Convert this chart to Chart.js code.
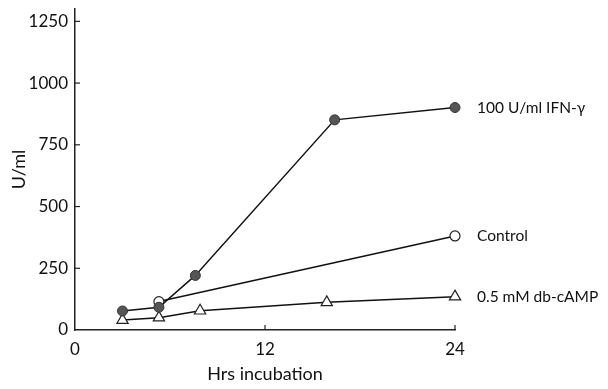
<!DOCTYPE html>
<html>
<head>
<meta charset="utf-8">
<script src="https://cdn.jsdelivr.net/npm/chart.js@4.4.1/dist/chart.umd.min.js"></script>
<style>
html,body{margin:0;padding:0;background:#fff;}
#wrap{width:608px;height:389px;}
</style>
</head>
<body>
<div id="wrap"><canvas id="c" width="608" height="389"></canvas></div>
<script>
// Data
const ifnHours = [3, 5.3, 7.6, 16.4, 24];
const ifnValues = [77, 92, 221, 851, 901];
const controlHours = [5.3, 24];
const controlValues = [115, 381];
const campHours = [3, 5.3, 7.9, 15.9, 24];
const campValues = [40, 50, 78, 112, 135];
const seriesLabels = ['100 U/ml IFN-\u03b3', 'Control', '0.5 mM db-cAMP'];
const xTicks = [0, 12, 24];
const yTicks = [0, 250, 500, 750, 1000, 1250];
const xTitle = 'Hrs incubation';
const yTitle = 'U/ml';

const FONT = 'Lato, "Open Sans", sans-serif';

function pts(xs, ys){ return xs.map((x,i)=>({x:x, y:ys[i]})); }

const endLabels = {
  id:'endLabels',
  afterDatasetsDraw(chart){
    const ctx = chart.ctx;
    ctx.save();
    ctx.fillStyle = '#111';
    ctx.font = '15.5px ' + FONT;
    ctx.textBaseline = 'middle';
    ctx.textAlign = 'left';
    chart.data.datasets.forEach((ds, i)=>{
      const meta = chart.getDatasetMeta(i);
      const last = meta.data[meta.data.length-1];
      ctx.fillText(ds.label, last.x + 22, last.y);
    });
    ctx.restore();
  }
};

const innerTicks = {
  id:'innerTicks',
  afterDraw(chart){
    const ctx = chart.ctx;
    const xs = chart.scales.x, ys = chart.scales.y;
    ctx.save();
    ctx.strokeStyle = '#222';
    ctx.lineWidth = 1.2;
    ys.ticks.forEach(t=>{
      if (t.value === 0) return;
      const py = ys.getPixelForValue(t.value);
      ctx.beginPath(); ctx.moveTo(xs.left, py); ctx.lineTo(xs.left + 5, py); ctx.stroke();
    });
    xs.ticks.forEach(t=>{
      if (t.value === 0) return;
      const px = xs.getPixelForValue(t.value);
      ctx.beginPath(); ctx.moveTo(px, ys.bottom); ctx.lineTo(px, ys.bottom - 5); ctx.stroke();
    });
    ctx.restore();
  }
};

new Chart(document.getElementById('c'), {
  type:'scatter',
  data:{
    datasets:[
      {label:seriesLabels[0], data:pts(ifnHours, ifnValues), showLine:true, clip:false,
       borderColor:'#111', borderWidth:1.5, pointStyle:'circle', pointRadius:5,
       pointBackgroundColor:'#555', pointBorderColor:'#333', pointBorderWidth:1},
      {label:seriesLabels[1], data:pts(controlHours, controlValues), showLine:true, clip:false,
       borderColor:'#111', borderWidth:1.5, pointStyle:'circle', pointRadius:5,
       pointBackgroundColor:'#fff', pointBorderColor:'#222', pointBorderWidth:1.2},
      {label:seriesLabels[2], data:pts(campHours, campValues), showLine:true, clip:false,
       borderColor:'#111', borderWidth:1.5, pointStyle:'triangle', pointRadius:6.5,
       pointBackgroundColor:'#fff', pointBorderColor:'#222', pointBorderWidth:1.2}
    ]
  },
  options:{
    responsive:false,
    animation:false,
    devicePixelRatio:1,
    layout:{padding:{left:4, right:153, top:9, bottom:0}},
    plugins:{legend:{display:false}, tooltip:{enabled:false}},
    scales:{
      x:{
        type:'linear', min:0, max:24,
        afterBuildTicks(s){ s.ticks = xTicks.map(v=>({value:v})); },
        afterFit(s){ s.height = 59; s.paddingLeft = 0; s.paddingRight = 0; },
        grid:{display:false, drawTicks:false},
        border:{display:true, color:'#222', width:1.5},
        ticks:{color:'#111', font:{family:FONT, size:17}, padding:9, callback:(v)=>String(v)},
        title:{display:true, text:xTitle, color:'#111', font:{family:FONT, size:18}, padding:{top:4}}
      },
      y:{
        type:'linear', min:0, max:1300,
        afterBuildTicks(s){ s.ticks = yTicks.map(v=>({value:v})); },
        afterFit(s){ s.width = 71; s.paddingTop = 0; s.paddingBottom = 0; },
        grid:{display:false, drawTicks:false},
        border:{display:true, color:'#222', width:1.5},
        ticks:{color:'#111', font:{family:FONT, size:17}, padding:7, callback:(v)=>String(v)},
        title:{display:true, text:yTitle, color:'#111', font:{family:FONT, size:18}, padding:{bottom:0}}
      }
    }
  },
  plugins:[endLabels, innerTicks]
});
</script>
</body>
</html>
